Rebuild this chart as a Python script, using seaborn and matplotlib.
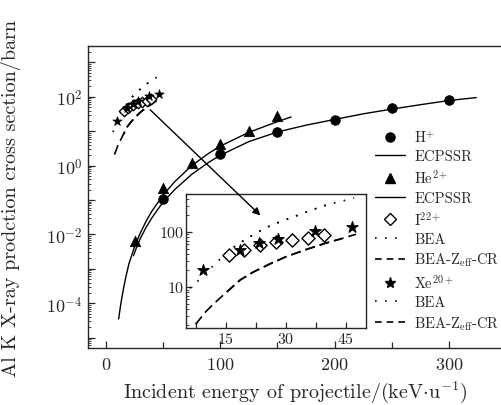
import numpy as np
import matplotlib
matplotlib.use("Agg")
import matplotlib.pyplot as plt
import matplotlib.ticker as mticker
from matplotlib.lines import Line2D
import seaborn as sns

# ---------------- data ----------------
h_x = [50, 100, 150, 200, 250, 300]
h_y = [0.107, 2.2, 9.5, 21, 48, 82]
h_fit_x = [24, 27, 30, 35, 40, 45, 50, 60, 75, 90, 100, 125, 150, 175, 200, 225, 250, 275, 300, 324]
h_fit_y = [2.4e-3, 4.5e-3, 7.6e-3, 1.6e-2, 3.0e-2, 5.2e-2, 8.7e-2, 0.2, 0.56, 1.26, 2.0,
           5.0, 9.5, 15, 22, 32, 44, 59, 78, 95]

he_x = [25, 50, 75, 100, 125, 150]
he_y = [0.0063, 0.22, 1.2, 4.3, 10, 28]
he_fit_x = [11, 13, 15, 17, 20, 25, 30, 35, 40, 50, 60, 75, 90, 100, 125, 150, 162]
he_fit_y = [3.5e-5, 1.0e-4, 2.4e-4, 5.2e-4, 1.4e-3, 4.5e-3, 1.1e-2, 2.4e-2, 4.7e-2,
            0.14, 0.34, 1.0, 2.3, 3.7, 9.3, 19, 26]

i_x = [15.8, 19.6, 23.6, 27.6, 31.5, 35.5, 39.4]
i_y = [38, 47, 59, 67, 72, 78, 89]
i_bea_x = [16, 18, 20, 22.5, 25, 28, 31, 35, 38, 41]
i_bea_y = [47, 60, 74, 95, 120, 148, 178, 229, 275, 324]
i_cr_x = [15, 18.6, 22, 26, 30, 35, 40, 44]
i_cr_y = [7.9, 13.5, 19, 26.3, 35.5, 47.9, 63, 76]

xe_x = [9.25, 18.6, 23.3, 27.9, 37.2, 46.5]
xe_y = [20, 48, 63, 75, 106, 122]
xe_bea_x = [6, 8, 10, 12, 14, 16, 18, 20, 22.5, 25, 28, 31, 35, 38, 41, 44, 47]
xe_bea_y = [9.5, 12.9, 18.2, 25, 35, 47, 60, 74, 95, 120, 148, 178, 229, 275, 324, 363, 417]
xe_cr_x = [7.4, 10, 12, 15, 18.6, 22, 26, 30, 35, 40, 44, 47.5]
xe_cr_y = [2.1, 3.6, 5.0, 7.9, 13.5, 19, 26.3, 35.5, 47.9, 63, 76, 91]

legend_labels = ["H$^{+}$", "ECPSSR", "He$^{2+}$", "ECPSSR", "I$^{22+}$", "BEA",
                 r"BEA-Z$_{\rm eff}$-CR", "Xe$^{20+}$", "BEA", r"BEA-Z$_{\rm eff}$-CR"]

# ---------------- style ----------------
sns.set_style("ticks")
plt.rcParams.update({
    "font.family": ["cmr10", "DejaVu Serif"],
    "mathtext.fontset": "cm",
    "axes.formatter.use_mathtext": True,
    "axes.unicode_minus": False,
    "axes.linewidth": 1.0,
    "xtick.direction": "in",
    "ytick.direction": "in",
})

DOT = (1, 5)
DASH = (6, 3)
LW_T = 1.2
DPI = 100

fig = plt.figure(figsize=(5.02, 4.06), dpi=DPI)
ax = fig.add_axes([0.1753, 0.1404, 0.8247, 0.7438])
ins = fig.add_axes([0.3705, 0.1897, 0.3586, 0.330])


def draw(a, ms_small):
    sns.lineplot(x=h_fit_x, y=h_fit_y, ax=a, color="k", lw=1.0, sort=False)
    sns.lineplot(x=he_fit_x, y=he_fit_y, ax=a, color="k", lw=1.0, sort=False)
    sns.lineplot(x=xe_bea_x, y=xe_bea_y, ax=a, color="k", lw=LW_T, linestyle=(0, DOT), sort=False)
    sns.lineplot(x=i_bea_x, y=i_bea_y, ax=a, color="k", lw=LW_T, linestyle=(0, DOT), sort=False)
    l_ibea = a.lines[-1]
    sns.lineplot(x=xe_cr_x, y=xe_cr_y, ax=a, color="k", lw=LW_T, linestyle=(0, DASH), sort=False)
    sns.lineplot(x=i_cr_x, y=i_cr_y, ax=a, color="k", lw=LW_T, linestyle=(0, DASH), sort=False)
    l_icr = a.lines[-1]
    sns.scatterplot(x=h_x, y=h_y, ax=a, marker="o", color="k", s=48, edgecolor="k", zorder=5)
    sns.scatterplot(x=he_x, y=he_y, ax=a, marker="^", color="k", s=55, edgecolor="k", zorder=5)
    sns.scatterplot(x=i_x, y=i_y, ax=a, marker="D", facecolor="white", edgecolor="k",
                    linewidth=1.0, s=ms_small, zorder=5)
    sns.scatterplot(x=xe_x, y=xe_y, ax=a, marker="*", color="k", edgecolor="k",
                    s=ms_small * 1.7, zorder=6)
    return l_ibea, l_icr


def align_phase(a, line, ref_x, ref_y, start_x, pattern):
    """Shift the dash phase of a curve lying on a reference curve so both coincide."""
    pts = a.transData.transform(np.column_stack([ref_x, ref_y]))
    seg = np.hypot(*np.diff(pts, axis=0).T)
    k = list(ref_x).index(start_x)
    length_pt = seg[:k].sum() * 72.0 / DPI
    line.set_linestyle((length_pt / LW_T, pattern))


main_lines = draw(ax, 28)
ins_lines = draw(ins, 45)

# main axes
ax.set_yscale("log")
ax.set_xlim(-15.8, 346.5)
ax.set_ylim(5e-6, 3e3)
ax.xaxis.set_major_locator(mticker.FixedLocator([0, 100, 200, 300]))
ax.xaxis.set_minor_locator(mticker.FixedLocator([50, 150, 250]))
ax.yaxis.set_major_locator(mticker.LogLocator(base=10, numticks=20))
ax.yaxis.set_minor_locator(mticker.LogLocator(base=10, subs=np.arange(2, 10), numticks=20))
ax.yaxis.set_minor_formatter(mticker.NullFormatter())
ax.yaxis.set_major_formatter(mticker.FuncFormatter(
    lambda v, p: (r"$10^{%d}$" % round(np.log10(v))) if round(np.log10(v)) % 2 == 0 else ""))
ax.tick_params(which="major", length=5, width=0.9, labelsize=13, pad=4)
ax.tick_params(axis="x", which="major", pad=6)
ax.tick_params(which="minor", length=2.5, width=0.6)
ax.tick_params(axis="x", which="minor", length=4, width=0.9)
ax.spines["right"].set_visible(False)
ax.set_xlabel(r"Incident energy of projectile/(keV$\cdot$u$^{-1}$)", fontsize=14.5, labelpad=4)
ax.set_ylabel("Al K X-ray prodction cross section/barn", fontsize=14.5)
ax.yaxis.set_label_coords(-0.162, 0.5)

# inset
ins.set_yscale("log")
ins.set_xlim(5, 50)
ins.set_ylim(1.8, 490)
ins.xaxis.set_major_locator(mticker.FixedLocator([15, 30, 45]))
ins.xaxis.set_minor_locator(mticker.FixedLocator([7.5, 22.5, 37.5]))
ins.yaxis.set_major_locator(mticker.FixedLocator([10, 100]))
ins.yaxis.set_minor_locator(mticker.LogLocator(base=10, subs=np.arange(2, 10), numticks=20))
ins.yaxis.set_minor_formatter(mticker.NullFormatter())
ins.yaxis.set_major_formatter(mticker.FuncFormatter(lambda v, p: "%d" % v))
ins.tick_params(which="major", length=4, width=0.9, labelsize=11.5, pad=2)
ins.tick_params(which="minor", length=2.5, width=0.6)
ins.tick_params(axis="x", which="minor", length=4, width=0.9)
ins.set_xlabel("")
ins.set_ylabel("")

# make the overlapping I22+ curves share the dash phase of the Xe20+ curves
for a, (l_ibea, l_icr) in ((ax, main_lines), (ins, ins_lines)):
    align_phase(a, l_ibea, xe_bea_x, xe_bea_y, i_bea_x[0], DOT)
    align_phase(a, l_icr, xe_cr_x, xe_cr_y, i_cr_x[0], DASH)

# arrow from main cluster into inset
ins.annotate("", xy=(23.6, 200), xycoords="data", xytext=(38.6, 42),
             textcoords=ax.transData,
             arrowprops=dict(arrowstyle="-|>", color="k", lw=1.0,
                             mutation_scale=11, shrinkA=0, shrinkB=0),
             annotation_clip=False)

# legend
handles = [
    Line2D([], [], marker="o", color="k", ls="none", ms=6.5),
    Line2D([], [], color="k", lw=1.0),
    Line2D([], [], marker="^", color="k", ls="none", ms=7),
    Line2D([], [], color="k", lw=1.0),
    Line2D([], [], marker="D", mfc="white", mec="k", ls="none", ms=6, mew=1.0),
    Line2D([], [], color="k", lw=LW_T, ls=(0, DOT)),
    Line2D([], [], color="k", lw=LW_T, ls=(0, (4, 3))),
    Line2D([], [], marker="*", color="k", ls="none", ms=8),
    Line2D([], [], color="k", lw=LW_T, ls=(0, DOT)),
    Line2D([], [], color="k", lw=LW_T, ls=(0, (4, 3))),
]
leg = fig.legend(handles, legend_labels, loc="upper left",
                 bbox_to_anchor=(375 / 502, 1 - 130 / 406), frameon=False,
                 fontsize=10.5, handlelength=2.05, handletextpad=0.65,
                 labelspacing=0.33, borderpad=0, borderaxespad=0)

fig.savefig("out.png", dpi=DPI)
